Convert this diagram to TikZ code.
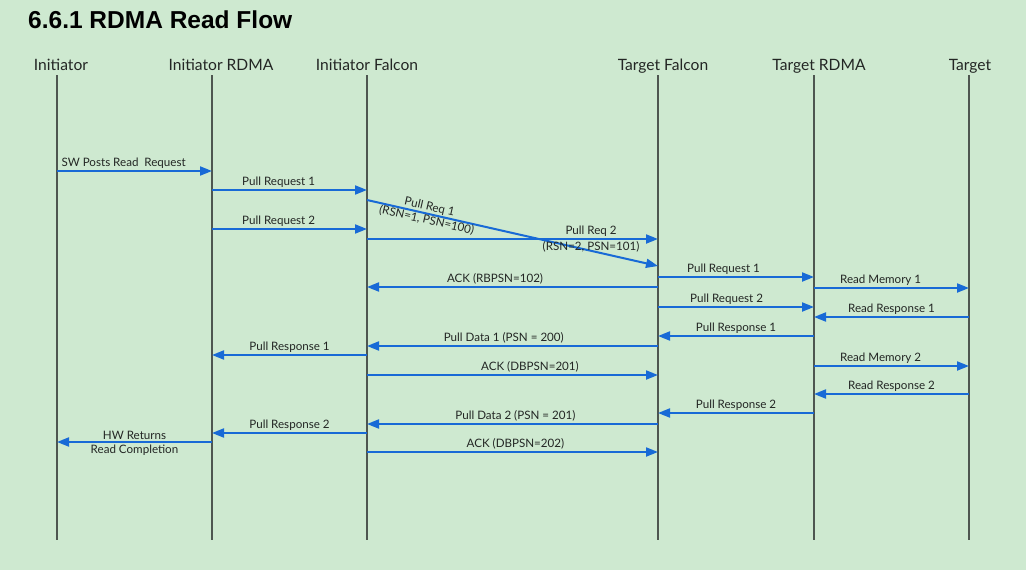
\documentclass[tikz,border=0pt]{standalone}
\usepackage{fontspec}
\setmainfont{Lato}
\newfontfamily\titlefont{Liberation Sans}
\usetikzlibrary{arrows.meta}
\definecolor{bgGreen}{RGB}{206,233,208}
\definecolor{msgBlue}{RGB}{24,106,214}
\definecolor{lifeGray}{RGB}{78,86,80}
\definecolor{txtGray}{RGB}{35,38,36}
\tikzset{
  actor/.style={font=\fontsize{15.6}{18}\selectfont, text=txtGray, inner sep=0pt, anchor=base},
  lifeline/.style={draw=lifeGray, line width=1.3pt},
  msg/.style={draw=msgBlue, line width=2pt, -{Triangle[length=12pt,width=9pt]}},
  lbl/.style={font=\fontsize{11.6}{13.5}\selectfont, text=txtGray, inner sep=1.5pt},
}
\begin{document}
\begin{tikzpicture}[x=1pt,y=-1pt]
\fill[bgGreen] (0,0) rectangle (1026,570);
\useasboundingbox (0,0) rectangle (1026,570);
\node[anchor=base west, inner sep=0pt, font=\titlefont\bfseries\fontsize{24.5}{28}\selectfont] (title) at (28,28) {6.6.1 RDMA Read Flow};
% actors and lifelines
\foreach \name/\x/\hx/\txt in {ini/57/61/Initiator, irdma/212/221/Initiator RDMA, ifal/367/367/Initiator Falcon, tfal/658/663/Target Falcon, trdma/814/819/Target RDMA, tgt/969/970/Target}
{
  \node[actor] (\name) at (\hx,70) {\txt};
  \coordinate (l\name) at (\x,75);
  \coordinate (b\name) at (\x,540);
  \draw[lifeline] (l\name) -- (b\name);
}
% messages
\foreach \from/\to/\y/\p/\txt in {
  lini/lirdma/171/0.43/{SW Posts Read\ \ Request},
  lirdma/lifal/190/0.43/Pull Request 1,
  lirdma/lifal/229/0.43/Pull Request 2,
  ltfal/lifal/287/0.56/{ACK (RBPSN=102)},
  ltfal/ltrdma/277/0.42/Pull Request 1,
  ltrdma/ltgt/288/0.43/Read Memory 1,
  ltfal/ltrdma/307/0.44/Pull Request 2,
  ltgt/ltrdma/317/0.5/Read Response 1,
  ltrdma/ltfal/336/0.5/Pull Response 1,
  ltfal/lifal/346/0.53/{Pull Data 1 (PSN = 200)},
  lifal/lirdma/355/0.5/Pull Response 1,
  ltrdma/ltgt/366/0.43/Read Memory 2,
  lifal/ltfal/375/0.56/{ACK (DBPSN=201)},
  ltgt/ltrdma/394/0.5/Read Response 2,
  ltrdma/ltfal/413/0.5/Pull Response 2,
  ltfal/lifal/424/0.49/{Pull Data 2 (PSN = 201)},
  lifal/lirdma/433/0.5/Pull Response 2,
  lifal/ltfal/452/0.51/{ACK (DBPSN=202)}}
  \draw[msg] (\from |- 0,\y) -- node[lbl, above, pos=\p] {\txt} (\to |- 0,\y);
% messages with two-line labels
\draw[msg] (lifal |- 0,200) -- node[lbl, sloped, align=center, pos=0.21] {Pull Req 1\\(RSN=1, PSN=100)} (ltfal |- 0,266);
\draw[msg] (lifal |- 0,239) -- node[lbl, above, pos=0.77] {Pull Req 2}
  node[lbl, below, pos=0.77] {(RSN=2, PSN=101)} (ltfal |- 0,239);
\draw[msg] (lirdma |- 0,442) -- node[lbl, above, pos=0.5] {HW Returns}
  node[lbl, below, pos=0.5] {Read Completion} (lini |- 0,442);
\end{tikzpicture}
\end{document}
